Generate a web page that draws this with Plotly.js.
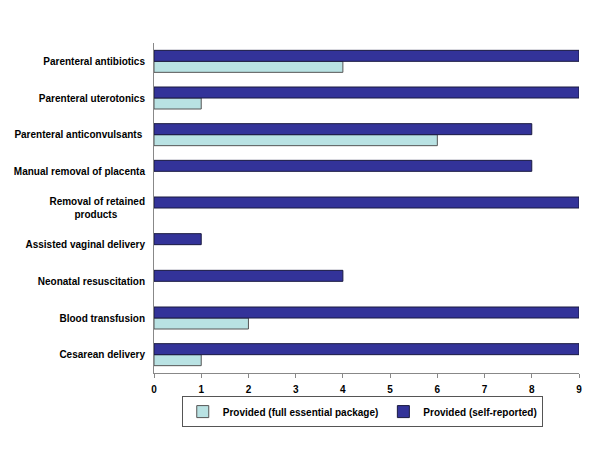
<!DOCTYPE html>
<html><head><meta charset="utf-8">
<script src="https://cdn.plot.ly/plotly-3.0.1.min.js"></script>
<style>body{margin:0;background:#fff}#chart{width:600px;height:450px}</style>
</head><body><div id="chart"></div>
<script>
const categories = ["Parenteral antibiotics","Parenteral uterotonics","Parenteral anticonvulsants","Manual removal of placenta","Removal of retained products","Assisted vaginal delivery","Neonatal resuscitation","Blood transfusion","Cesarean delivery"];
const tickLabels = ["Parenteral antibiotics","Parenteral uterotonics","Parenteral anticonvulsants ","Manual removal of placenta","Removal of retained<br>products\u00a0\u00a0\u00a0\u00a0\u00a0\u00a0\u00a0\u00a0\u00a0\u00a0","Assisted vaginal delivery","Neonatal resuscitation","Blood transfusion","Cesarean delivery"];
const fullPackage = [4,1,6,0,0,0,0,2,1];
const selfReported = [9,9,8,8,9,1,4,9,9];
const seriesNames = ["Provided (full essential package)","Provided (self-reported)"];
const xTicks = [0,1,2,3,4,5,6,7,8,9];

const cats = categories.slice().reverse();
const lw = v => v.slice().reverse().map(x => x === 0 ? 0 : 1);
const traces = [
  {type:'bar',orientation:'h',name:seriesNames[0],y:cats,x:fullPackage.slice().reverse(),
   marker:{color:'#b9e2e3',line:{color:'#555',width:lw(fullPackage)}}},
  {type:'bar',orientation:'h',name:seriesNames[1],y:cats,x:selfReported.slice().reverse(),
   marker:{color:'#333399',line:{color:'#1a1a40',width:lw(selfReported)}}}
];
const layout = {
  width:600,height:450,
  margin:{l:154,r:21,t:43,b:77},
  barmode:'group',bargap:0.4,bargroupgap:0,
  font:{family:'Liberation Sans, Arial, sans-serif',size:10,color:'#000'},
  paper_bgcolor:'#fff',plot_bgcolor:'#fff',
  xaxis:{range:[0,9],tickvals:xTicks,showgrid:false,zeroline:false,showline:true,linecolor:'#888',linewidth:1,
    ticks:'outside',ticklen:4,tickcolor:'#888',ticklabelstandoff:3,tickfont:{size:10,weight:'bold'}},
  yaxis:{type:'category',tickvals:categories,ticktext:tickLabels,showgrid:false,zeroline:false,showline:true,linecolor:'#888',linewidth:1,ticks:'',
    ticklabelstandoff:6,tickfont:{size:10,weight:'bold'}},
  showlegend:true,
  legend:{orientation:'h',x:0.49,xanchor:'center',y:-0.07,yanchor:'top',traceorder:'normal',
    bordercolor:'#555',borderwidth:1,font:{size:10,weight:'bold'},itemwidth:30,tracegroupgap:0}
};
Plotly.newPlot('chart',traces,layout,{displayModeBar:false});
</script></body></html>
